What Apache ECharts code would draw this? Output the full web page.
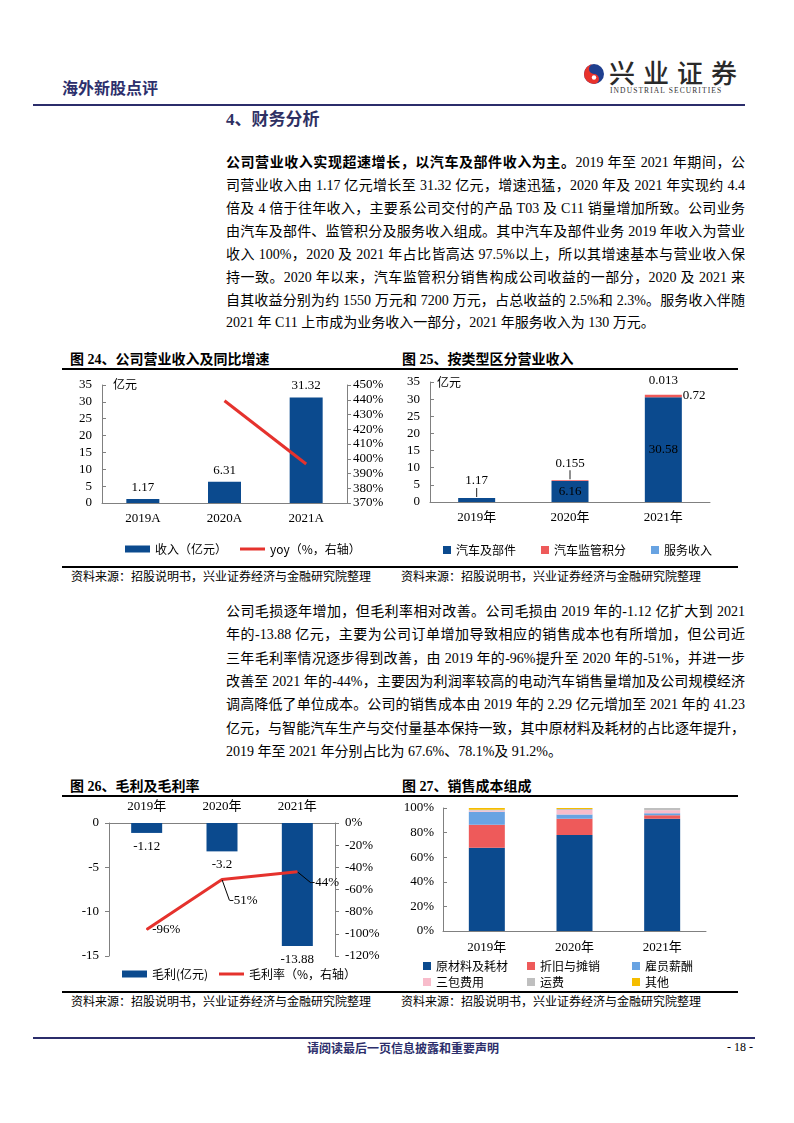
<!DOCTYPE html>
<html>
<head>
<meta charset="utf-8">
<script src="https://cdn.jsdelivr.net/npm/echarts@6/dist/echarts.min.js"></script>
<style>
  html,body{margin:0;padding:0;background:#fff;}
  #page{position:relative;width:794px;height:1123px;overflow:hidden;background:#fff;
        font-family:"Liberation Serif","Noto Sans CJK SC",serif;color:#000;}
  .abs{position:absolute;}
  .ln{position:absolute;left:226px;width:519px;height:23px;line-height:23px;font-size:14px;
      text-align:justify;text-align-last:justify;white-space:nowrap;}
  .ln.last{text-align-last:left;}
  .ttl{position:absolute;font-size:14px;font-weight:700;line-height:18px;white-space:nowrap;
       font-family:"Liberation Serif","Noto Sans CJK SC",serif;}
  .src{position:absolute;font-size:12px;line-height:16px;white-space:nowrap;font-family:"Noto Sans CJK SC",sans-serif;}
  .hr{position:absolute;background:#000;}
  .chart{position:absolute;}
</style>
</head>
<body>
<div id="page">
  <!-- header -->
  <div class="abs" style="left:62px;top:76px;font-size:16px;font-weight:700;color:#2d2f6c;font-family:'Noto Sans CJK SC',sans-serif;line-height:22px;">海外新股点评</div>
  <svg class="abs" style="left:583px;top:63px" width="22" height="22" viewBox="0 0 22 22">
    <circle cx="11" cy="11" r="10" fill="#1f3f8f"/>
    <path d="M11 1 A10 10 0 0 0 11 21 A5 5 0 0 0 11 11 A5 5 0 0 1 11 1Z" fill="#e8322c"/>
    <circle cx="11" cy="14.5" r="2.2" fill="#fff"/>
  </svg>
  <div class="abs" style="left:609px;top:57px;font-size:26px;letter-spacing:8px;color:#2a2a2a;font-family:'Noto Sans CJK SC',sans-serif;font-weight:500;line-height:30px;white-space:nowrap;">兴业证券</div>
  <div class="abs" style="left:610px;top:86px;font-size:7.5px;letter-spacing:1.1px;color:#333;line-height:9px;white-space:nowrap;font-family:'Liberation Serif',serif;">INDUSTRIAL SECURITIES</div>
  <div class="hr" style="left:33px;top:104px;width:712px;height:2px;background:#2b2d6b;"></div>

  <!-- section heading -->
  <div class="abs" style="left:226px;top:109px;font-size:17px;font-weight:700;color:#2e3063;line-height:22px;font-family:'Liberation Serif','Noto Sans CJK SC',serif;">4、财务分析</div>

  <!-- paragraph 1 -->
  <div class="ln" style="top:151px"><b>公司营业收入实现超速增长，以汽车及部件收入为主。</b>2019 年至 2021 年期间，公</div>
  <div class="ln" style="top:174px">司营业收入由 1.17 亿元增长至 31.32 亿元，增速迅猛，2020 年及 2021 年实现约 4.4</div>
  <div class="ln" style="top:197px">倍及 4 倍于往年收入，主要系公司交付的产品 T03 及 C11 销量增加所致。公司业务</div>
  <div class="ln" style="top:220px">由汽车及部件、监管积分及服务收入组成。其中汽车及部件业务 2019 年收入为营业</div>
  <div class="ln" style="top:243px">收入 100%，2020 及 2021 年占比皆高达 97.5%以上，所以其增速基本与营业收入保</div>
  <div class="ln" style="top:266px">持一致。2020 年以来，汽车监管积分销售构成公司收益的一部分，2020 及 2021 来</div>
  <div class="ln" style="top:289px">自其收益分别为约 1550 万元和 7200 万元，占总收益的 2.5%和 2.3%。服务收入伴随</div>
  <div class="ln last" style="top:311px">2021 年 C11 上市成为业务收入一部分，2021 年服务收入为 130 万元。</div>

  <!-- figure titles top -->
  <div class="ttl" style="left:70px;top:351px;">图 24、公司营业收入及同比增速</div>
  <div class="ttl" style="left:402px;top:351px;">图 25、按类型区分营业收入</div>
  <div class="hr" style="left:62px;top:368px;width:676px;height:1.5px;"></div>
  <div id="c24" class="chart" style="left:60px;top:370px;width:330px;height:190px;"></div>
  <div id="c25" class="chart" style="left:390px;top:370px;width:350px;height:190px;"></div>
  <div class="hr" style="left:62px;top:566px;width:676px;height:1.5px;"></div>
  <div class="src" style="left:71px;top:568px;">资料来源：招股说明书，兴业证券经济与金融研究院整理</div>
  <div class="src" style="left:401px;top:568px;">资料来源：招股说明书，兴业证券经济与金融研究院整理</div>

  <!-- paragraph 2 -->
  <div class="ln" style="top:600px">公司毛损逐年增加，但毛利率相对改善。公司毛损由 2019 年的-1.12 亿扩大到 2021</div>
  <div class="ln" style="top:623px">年的-13.88 亿元，主要为公司订单增加导致相应的销售成本也有所增加，但公司近</div>
  <div class="ln" style="top:647px">三年毛利率情况逐步得到改善，由 2019 年的-96%提升至 2020 年的-51%，并进一步</div>
  <div class="ln" style="top:670px">改善至 2021 年的-44%，主要因为利润率较高的电动汽车销售量增加及公司规模经济</div>
  <div class="ln" style="top:693px">调高降低了单位成本。公司的销售成本由 2019 年的 2.29 亿元增加至 2021 年的 41.23</div>
  <div class="ln" style="top:717px">亿元，与智能汽车生产与交付量基本保持一致，其中原材料及耗材的占比逐年提升，</div>
  <div class="ln last" style="top:740px">2019 年至 2021 年分别占比为 67.6%、78.1%及 91.2%。</div>

  <!-- figure titles bottom -->
  <div class="ttl" style="left:70px;top:778px;">图 26、毛利及毛利率</div>
  <div class="ttl" style="left:402px;top:778px;">图 27、销售成本组成</div>
  <div class="hr" style="left:62px;top:795px;width:676px;height:1.5px;"></div>
  <div id="c26" class="chart" style="left:60px;top:798px;width:330px;height:190px;"></div>
  <div id="c27" class="chart" style="left:390px;top:798px;width:350px;height:192px;"></div>
  <div class="hr" style="left:62px;top:991px;width:676px;height:1.5px;"></div>
  <div class="src" style="left:71px;top:993px;">资料来源：招股说明书，兴业证券经济与金融研究院整理</div>
  <div class="src" style="left:401px;top:993px;">资料来源：招股说明书，兴业证券经济与金融研究院整理</div>

  <!-- footer -->
  <div class="hr" style="left:33px;top:1037px;width:722px;height:2px;background:#2b2d6b;"></div>
  <div class="abs" style="left:307px;top:1040px;font-size:12px;font-weight:700;color:#2d2f6c;line-height:15px;font-family:'Noto Sans CJK SC',sans-serif;white-space:nowrap;">请阅读最后一页信息披露和重要声明</div>
  <div class="abs" style="left:727px;top:1040px;font-size:12px;line-height:15px;white-space:nowrap;">- 18 -</div>
</div>

<script>
// ---------------- data ----------------
const revenueYears = ['2019A', '2020A', '2021A'];
const revenue = [1.17, 6.31, 31.32];
const revenueYoy = [null, 439.3, 396.4];

const segmentYears = ['2019年', '2020年', '2021年'];
const autoParts = [1.17, 6.16, 30.58];
const regCredits = [0, 0.155, 0.72];
const serviceIncome = [0, 0, 0.013];
const autoPartsLabels = ['1.17', '6.16', '30.58'];
const regCreditsLabels = ['', '0.155', '0.72'];
const serviceLabels = ['', '', '0.013'];

const grossYears = ['2019年', '2020年', '2021年'];
const grossProfit = [-1.12, -3.2, -13.88];
const grossMargin = [-96, -51, -44];

const costYears = ['2019年', '2020年', '2021年'];
const costNames = ['原材料及耗材', '折旧与摊销', '雇员薪酬', '三包费用', '运费', '其他'];
const costMaterials = [67.6, 78.1, 91.2];
const costDepreciation = [18.8, 13.1, 2.9];
const costPayroll = [10.6, 3.5, 1.6];
const costWarranty = [1.0, 3.7, 2.4];
const costFreight = [0.5, 0.8, 1.9];
const costOther = [1.5, 0.8, 0.0];

// ---------------- styles ----------------
const SERIF = 'Liberation Serif, Noto Sans CJK SC, serif';
const CJK = 'Noto Sans CJK SC, sans-serif';
const NAVY = '#0b4a8e';
const RED = '#e5322d';
const AX = '#808080';
const lbl = (extra) => Object.assign({color: '#000', fontFamily: SERIF, fontSize: 13}, extra || {});
const axLine = {show: true, lineStyle: {color: AX, width: 1}};
const legText = {fontFamily: CJK, fontSize: 12, color: '#000'};
const leaderRich = {v: {fontFamily: SERIF, fontSize: 13, color: '#000', lineHeight: 14},
                    l: {width: 1, height: 9, backgroundColor: '#222', lineHeight: 9}};

// ---------------- Figure 24 ----------------
const c24 = echarts.init(document.getElementById('c24'));
c24.setOption({
  animation: false,
  grid: {left: 42, right: 43, top: 15, bottom: 57},
  legend: [
    {left: 60, top: 168, itemWidth: 25, itemHeight: 7, icon: 'rect', textStyle: legText, data: ['收入（亿元）']},
    {left: 175, top: 168, itemWidth: 25, itemHeight: 3, icon: 'rect', textStyle: legText, data: ['yoy（%，右轴）']}
  ],
  graphic: [{type: 'text', left: 53, top: 8, style: {text: '亿元', font: '12px Noto Sans CJK SC', fill: '#000'}}],
  xAxis: {type: 'category', data: revenueYears, axisLine: axLine, axisTick: {show: false},
          axisLabel: lbl({margin: 9})},
  yAxis: [
    {type: 'value', min: 0, max: 35, interval: 5, splitLine: {show: false}, axisLine: axLine,
     axisTick: {show: true, inside: true, length: 4, lineStyle: {color: AX}}, axisLabel: lbl({margin: 10})},
    {type: 'value', min: 370, max: 450, interval: 10, position: 'right', splitLine: {show: false}, axisLine: axLine,
     axisTick: {show: true, length: 4, lineStyle: {color: AX}}, axisLabel: lbl({margin: 6, formatter: '{value}%'})}
  ],
  series: [
    {name: '收入（亿元）', type: 'bar', data: revenue, barWidth: 33, itemStyle: {color: NAVY},
     label: lbl({show: true, position: 'top', distance: 5})},
    {name: 'yoy（%，右轴）', type: 'line', yAxisIndex: 1, data: revenueYoy, symbol: 'none',
     lineStyle: {color: RED, width: 3}, itemStyle: {color: RED}}
  ]
});

// ---------------- Figure 25 ----------------
const c25 = echarts.init(document.getElementById('c25'));
const leaderLabel = (txt, dist) => ({show: true, position: 'top', distance: dist, formatter: '{v|' + txt + '}\n{l|}', rich: leaderRich});
const autoData = autoParts.map((v, i) => ({value: v, label: i === 0 ? leaderLabel(autoPartsLabels[i], 1)
  : lbl({show: true, position: 'inside', formatter: autoPartsLabels[i]})}));
const creditData = regCredits.map((v, i) => ({value: v, label: i === 1 ? leaderLabel(regCreditsLabels[i], 1)
  : (i === 2 ? lbl({show: true, position: 'right', distance: 1, formatter: regCreditsLabels[i]}) : {show: false})}));
const serviceData = serviceIncome.map((v, i) => ({value: v, label: i === 2
  ? lbl({show: true, position: 'top', distance: 8, formatter: serviceLabels[i]}) : {show: false}}));
c25.setOption({
  animation: false,
  grid: {left: 40, right: 30, top: 12, bottom: 58},
  legend: {
    left: 48, top: 169, itemGap: 25, itemWidth: 8, itemHeight: 8, icon: 'rect',
    textStyle: legText, data: ['汽车及部件', '汽车监管积分', '服务收入']
  },
  graphic: [{type: 'text', left: 47, top: 6, style: {text: '亿元', font: '12px Noto Sans CJK SC', fill: '#000'}}],
  xAxis: {type: 'category', data: segmentYears, axisLine: axLine, axisTick: {show: false},
          axisLabel: lbl({margin: 9})},
  yAxis: {type: 'value', min: 0, max: 35, interval: 5, splitLine: {show: false}, axisLine: axLine,
          axisTick: {show: true, inside: true, length: 4, lineStyle: {color: AX}}, axisLabel: lbl({margin: 10})},
  series: [
    {name: '汽车及部件', type: 'bar', stack: 'a', data: autoData, barWidth: 37, itemStyle: {color: NAVY}, label: lbl()},
    {name: '汽车监管积分', type: 'bar', stack: 'a', data: creditData, barWidth: 37, itemStyle: {color: '#ee5a5a'}, label: lbl()},
    {name: '服务收入', type: 'bar', stack: 'a', data: serviceData, barWidth: 37, itemStyle: {color: '#68a3e2'}, label: lbl()}
  ]
});

// ---------------- Figure 26 ----------------
const c26 = echarts.init(document.getElementById('c26'));
const marginLayouts = [{}, {dx: 2, dy: 21}, {dx: 8, dy: 11}];
const marginData = grossMargin.map((v, i) => ({
  value: v,
  label: lbl({show: true, position: 'right', distance: 5, formatter: v + '%'}),
  labelLine: {show: i > 0, lineStyle: {color: '#000', width: 1}}
}));
c26.setOption({
  animation: false,
  grid: {left: 49, right: 55, top: 25, bottom: 32},
  legend: [
    {left: 57, top: 165, itemWidth: 25, itemHeight: 7, icon: 'rect', textStyle: legText, data: ['毛利(亿元)']},
    {left: 154, top: 165, itemWidth: 25, itemHeight: 3, icon: 'rect', textStyle: legText, data: ['毛利率（%，右轴）']}
  ],
  xAxis: {type: 'category', position: 'top', data: grossYears, axisLine: axLine, axisTick: {show: false},
          axisLabel: lbl({margin: 10})},
  yAxis: [
    {type: 'value', min: -15, max: 0, interval: 5, splitLine: {show: false}, axisLine: axLine,
     axisTick: {show: true, length: 4, lineStyle: {color: AX}}, axisLabel: lbl({margin: 10})},
    {type: 'value', min: -120, max: 0, interval: 20, position: 'right', splitLine: {show: false}, axisLine: axLine,
     axisTick: {show: true, length: 4, lineStyle: {color: AX}}, axisLabel: lbl({margin: 10, formatter: '{value}%'})}
  ],
  series: [
    {name: '毛利(亿元)', type: 'bar', data: grossProfit, barWidth: 31, itemStyle: {color: NAVY},
     label: lbl({show: true, position: 'bottom', distance: 7})},
    {name: '毛利率（%，右轴）', type: 'line', yAxisIndex: 1, data: marginData,
     symbol: 'circle', symbolSize: 1, showSymbol: true,
     lineStyle: {color: RED, width: 3}, itemStyle: {color: RED},
     label: lbl({show: true, position: 'right', distance: 5}),
     labelLayout: (p) => marginLayouts[p.dataIndex],
     labelLine: {show: true, lineStyle: {color: '#000', width: 1}}}
  ]
});

// ---------------- Figure 27 ----------------
const c27 = echarts.init(document.getElementById('c27'));
const costSeriesData = [costMaterials, costDepreciation, costPayroll, costWarranty, costFreight, costOther];
const costColors = [NAVY, '#ee5a5a', '#68a3e2', '#f8bccb', '#bfbfbf', '#f5bd00'];
const legendLeft = [28, 132, 237, 28, 132, 237];
const legendTop = [157, 157, 157, 173, 173, 173];
c27.setOption({
  animation: false,
  color: costColors,
  grid: {left: 53, right: 34, top: 10, bottom: 59},
  legend: costNames.map((n, k) => ({
    left: legendLeft[k], top: legendTop[k], itemWidth: 8, itemHeight: 8, icon: 'rect',
    textStyle: legText, data: [n]
  })),
  xAxis: {type: 'category', data: costYears, axisLine: axLine, axisTick: {show: false},
          axisLabel: lbl({margin: 10})},
  yAxis: {type: 'value', min: 0, max: 100, interval: 20, splitLine: {show: false}, axisLine: axLine,
          axisTick: {show: true, inside: true, length: 4, lineStyle: {color: AX}},
          axisLabel: lbl({margin: 9, formatter: '{value}%'})},
  series: costNames.map((n, k) => ({
    name: n, type: 'bar', stack: 'c', data: costSeriesData[k], barWidth: 36,
    itemStyle: {color: costColors[k]}
  }))
});
</script>
</body>
</html>
